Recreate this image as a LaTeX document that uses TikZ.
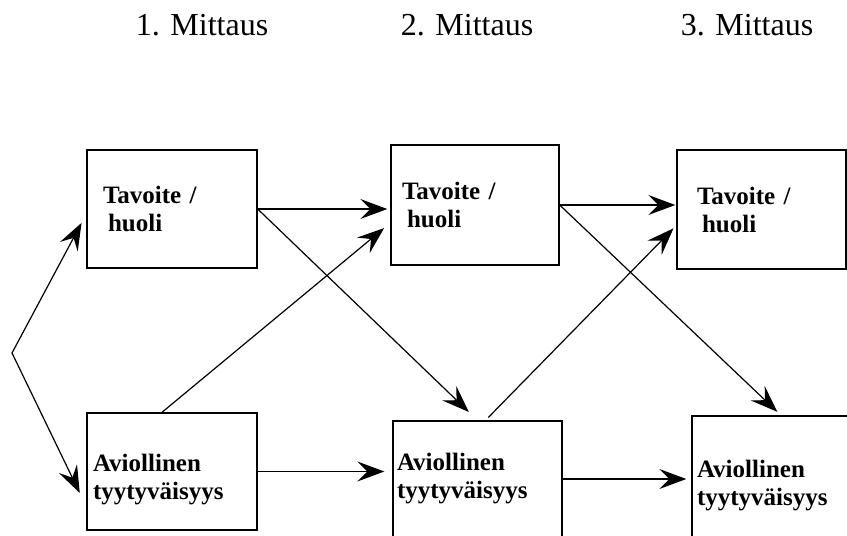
\documentclass[tikz,border=0pt]{standalone}
\usepackage{fontspec}
\setmainfont{Liberation Serif}
\usetikzlibrary{arrows.meta}

\begin{document}
\begin{tikzpicture}[x=1pt,y=-1pt,>={Stealth[length=27pt,width=20pt,inset=10pt]},box/.style={draw,line width=1.4pt,inner ysep=0pt,align=left,font=\fontsize{25}{28}\selectfont\bfseries},goal/.style={box},sat/.style={box},wave/.style={font=\fontsize{32}{36}\selectfont,anchor=base},link/.style={line width=1.2pt,->}]
\clip (0,0) rectangle (847,536);
\node[wave] (M1) at (202,35) {1. Mittaus};
\node[wave] (M2) at (467,35) {2. Mittaus};
\node[wave] (M3) at (747,35) {3. Mittaus};
\node[goal,minimum height=118pt,inner xsep=16pt,text width=138pt] (T1) at (172,209) {Tavoite /\\\hspace*{5pt}huoli};
\node[goal,minimum height=120pt,inner xsep=11pt,text width=146pt] (T2) at (475,205) {Tavoite /\\\hspace*{5pt}huoli};
\node[goal,minimum height=119pt,inner xsep=20pt,text width=129pt] (T3) at (761.5,209.5) {Tavoite /\\\hspace*{5pt}huoli};
\node[sat,minimum height=117pt,inner xsep=6pt,text width=158pt] (A1) at (172,471.5) {\rule{0pt}{34pt}Aviollinen\\tyytyväisyys};
\node[sat,minimum height=116pt,inner xsep=4pt,text width=161pt] (A2) at (477.5,479) {Aviollinen\\tyytyväisyys};
\node[sat,minimum height=140pt,inner xsep=5pt,text width=168pt] (A3) at (781,486) {Aviollinen\\tyytyväisyys};
\coordinate (V) at (12,353);
\draw[link,<->,shorten <=10pt,shorten >=15pt] ([yshift=-5pt]T1.west) -- (V) -- ([yshift=-35pt]A1.west);
\draw[link,shorten >=3pt] (T1.east) -- (T1.east -| T2.west);
\draw[link,shorten >=12pt] (T1.east) -- (A2.north);
\draw[link,shorten >=8pt] ([xshift=-10pt]A1.north) -- ([yshift=-18pt]T2.west);
\draw[link,shorten >=8pt] (A1.east) -- (A1.east -| A2.west);
\draw[link,shorten >=1pt] (T2.east) -- (T2.east -| T3.west);
\draw[link,shorten >=5pt] (T2.east) -- (A3.north);
\draw[link,shorten <=4pt,shorten >=4pt] ([xshift=8pt]A2.north) -- ([yshift=-16pt]T3.west);
\draw[link,shorten >=5pt] (A2.east) -- (A2.east -| A3.west);
\end{tikzpicture}
\end{document}
